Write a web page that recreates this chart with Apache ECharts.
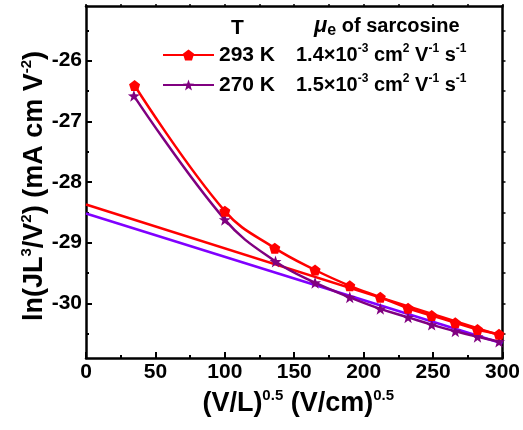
<!DOCTYPE html>
<html>
<head>
<meta charset="utf-8">
<script src="https://cdn.jsdelivr.net/npm/echarts@6/dist/echarts.min.js"></script>
<style>
  html, body { margin: 0; padding: 0; background: #fff; }
  #main { width: 523px; height: 430px; }
</style>
</head>
<body>
<div id="main"></div>
<script>
// data
var temps = ['293 K', '270 K'];
var mobility = ['1.4', '1.5'];

var x293 = [35, 100, 136, 165, 190, 212, 232, 249, 266, 282, 297.5];
var y293 = [-26.41, -28.48, -29.09, -29.45, -29.71, -29.90, -30.08, -30.20, -30.32, -30.43, -30.51];

var x270 = [34.5, 100, 136.5, 165, 190, 212, 232, 249, 266, 282, 297.5];
var y270 = [-26.58, -28.62, -29.31, -29.66, -29.90, -30.09, -30.23, -30.35, -30.46, -30.55, -30.63];

// linear fits
var fitX = [0, 300];
var fit293 = [-28.37, -30.54];
var fit270 = [-28.52, -30.66];

var yTicks = [-30, -29, -28, -27, -26];
var yMinorTicks = [-30.5, -29.5, -28.5, -27.5, -26.5, -25.5];
var yAllTicks = [-30.5, -30, -29.5, -29, -28.5, -28, -27.5, -27, -26.5, -26, -25.5];

var FONT = '"Liberation Sans", Arial, sans-serif';
var RED = '#ff0000';
var PURPLE = '#800080';
var VIOLET = '#8000ff';

var pentagon = 'path://M0,-10 L9.5,-3.1 L5.9,8.1 L-5.9,8.1 L-9.5,-3.1 Z';
var star = 'path://M0,-10 L2.35,-3.2 L9.5,-3.1 L3.8,1.2 L5.9,8.1 L0,4 L-5.9,8.1 L-3.8,1.2 L-9.5,-3.1 L-2.35,-3.2 Z';

function pairs(xs, ys) {
    var out = [];
    for (var i = 0; i < xs.length; i++) out.push([xs[i], ys[i]]);
    return out;
}

var supRich = {
    b: { fontSize: 27, fontWeight: 'bold', fontFamily: FONT, color: '#000', lineHeight: 32 },
    s: { fontSize: 15, fontWeight: 'bold', fontFamily: FONT, color: '#000', verticalAlign: 'top', lineHeight: 32 }
};

var legRich = {
    t: { fontSize: 21, fontWeight: 'bold', fontFamily: FONT, color: '#000', width: 77, lineHeight: 24 },
    m: { fontSize: 20, fontWeight: 'bold', fontFamily: FONT, color: '#000', lineHeight: 24 },
    s: { fontSize: 12, fontWeight: 'bold', fontFamily: FONT, color: '#000', verticalAlign: 'top', lineHeight: 24 }
};

var myChart = echarts.init(document.getElementById('main'), null, { renderer: 'canvas' });

var option = {
    backgroundColor: '#fff',
    animation: false,
    grid: { left: 86, right: 17, top: 6, bottom: 72, containLabel: false },
    legend: {
        data: temps,
        orient: 'vertical',
        left: 162,
        top: 43,
        padding: 0,
        itemWidth: 51,
        itemHeight: 14,
        itemGap: 6,
        formatter: function (name) {
            var i = temps.indexOf(name);
            return '{t|' + name + '}{m|' + mobility[i] + '×10}{s|-3}{m| cm}{s|2}{m| V}{s|-1}{m| s}{s|-1}';
        },
        textStyle: { lineHeight: 24, rich: legRich }
    },
    graphic: [
        {
            type: 'text', left: 231, top: 18,
            style: { text: 'T', font: 'bold 21px ' + FONT, fill: '#000' }
        },
        {
            type: 'text', left: 314, top: 15,
            style: {
                text: '{i|μ}{e|e}{n| of sarcosine}',
                rich: {
                    i: { font: 'italic bold 22px ' + FONT, fill: '#000', lineHeight: 26 },
                    e: { font: 'bold 16px ' + FONT, fill: '#000', verticalAlign: 'bottom', lineHeight: 26 },
                    n: { font: 'bold 20px ' + FONT, fill: '#000', lineHeight: 26 }
                }
            }
        }
    ],
    xAxis: [
        {
            type: 'value', position: 'bottom', min: 0, max: 300, interval: 50,
            name: '{b|(V/L)}{s|0.5}{b| (V/cm)}{s|0.5}',
            nameLocation: 'middle', nameGap: 30, nameMoveOverlap: false,
            nameTextStyle: { rich: supRich, padding: [0, 0, 0, 8] },
            axisLine: { onZero: false, lineStyle: { color: '#000', width: 2.5 } },
            axisTick: { inside: true, length: 6, lineStyle: { color: '#000', width: 2 } },
            minorTick: { show: true, splitNumber: 2, length: 3, lineStyle: { color: '#000', width: 2 } },
            axisLabel: { margin: 4, color: '#000', fontSize: 21, fontWeight: 'bold', fontFamily: FONT },
            splitLine: { show: false }
        },
        {
            type: 'value', position: 'top', min: 0, max: 300, interval: 25,
            axisLine: { onZero: false, lineStyle: { color: '#000', width: 2.5 } },
            axisTick: { inside: false, length: 2, lineStyle: { color: '#000', width: 1.5 } },
            axisLabel: { show: false },
            splitLine: { show: false }
        }
    ],
    yAxis: [
        {
            type: 'value', position: 'left', min: -30.9, max: -25.1,
            name: '{b|ln(JL}{s|3}{b|/V}{s|2}{b|) (mA cm V}{s|-2}{b|)}',
            nameLocation: 'middle', nameGap: 35, nameRotate: 90, nameMoveOverlap: false,
            nameTextStyle: { rich: supRich, padding: [0, 8, 0, 0] },
            axisLine: { onZero: false, lineStyle: { color: '#000', width: 2.5 } },
            axisTick: { inside: true, length: 6, customValues: yTicks, lineStyle: { color: '#000', width: 2 } },
            axisLabel: { customValues: yTicks, margin: 4, color: '#000', fontSize: 21, fontWeight: 'bold', fontFamily: FONT },
            splitLine: { show: false }
        },
        {
            type: 'value', position: 'left', min: -30.9, max: -25.1,
            axisLine: { show: false, onZero: false },
            axisTick: { inside: true, length: 3, customValues: yMinorTicks, lineStyle: { color: '#000', width: 2 } },
            axisLabel: { show: false },
            splitLine: { show: false }
        },
        {
            type: 'value', position: 'right', min: -30.9, max: -25.1,
            axisLine: { onZero: false, lineStyle: { color: '#000', width: 2.5 } },
            axisTick: { inside: false, length: 3, customValues: yAllTicks, lineStyle: { color: '#000', width: 1.5 } },
            axisLabel: { show: false },
            splitLine: { show: false }
        }
    ],
    series: [
        {
            name: 'fit293', type: 'line', data: pairs(fitX, fit293),
            symbol: 'none', lineStyle: { color: RED, width: 2.5 }, z: 2
        },
        {
            name: 'fit270', type: 'line', data: pairs(fitX, fit270),
            symbol: 'none', lineStyle: { color: VIOLET, width: 2.5 }, z: 2
        },
        {
            name: temps[1], type: 'line', data: pairs(x270, y270), smooth: 0.4,
            symbol: star, symbolSize: 12,
            lineStyle: { color: PURPLE, width: 2.5 }, itemStyle: { color: PURPLE }, z: 3
        },
        {
            name: temps[0], type: 'line', data: pairs(x293, y293), smooth: 0.4,
            symbol: pentagon, symbolSize: 11,
            lineStyle: { color: RED, width: 2.5 }, itemStyle: { color: RED }, z: 4
        }
    ]
};

myChart.setOption(option);
</script>
</body>
</html>
